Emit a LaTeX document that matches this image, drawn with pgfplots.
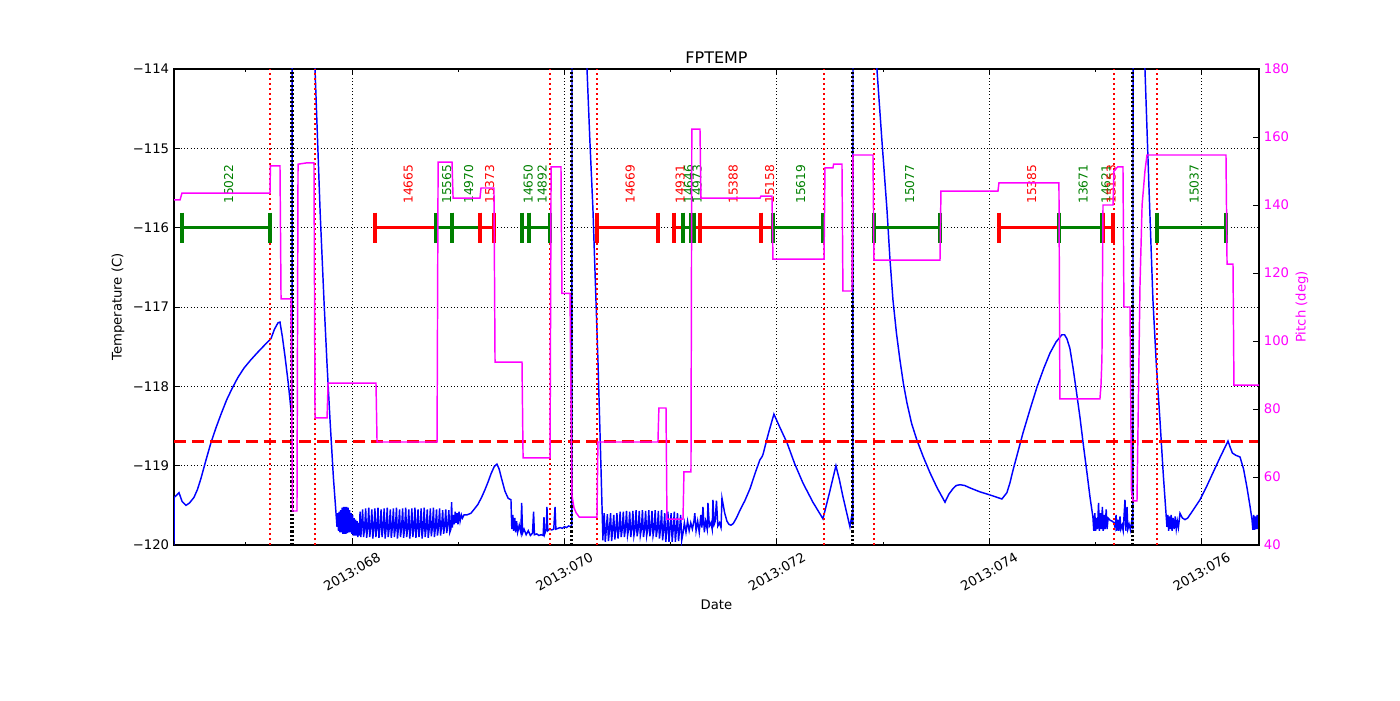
\documentclass[border=0pt]{standalone}
\usepackage{fontspec}
\setmainfont{DejaVu Sans}
\usepackage{pgfplots}
\pgfplotsset{compat=1.18}
\definecolor{mplgreen}{rgb}{0,0.5,0}
\definecolor{mplmag}{rgb}{1,0,1}
\newcommand{\tkfont}{\fontsize{9.5}{11}\selectfont}
\newcommand{\bfnt}{\fontsize{8.8}{10}\selectfont}
\begin{document}
\begin{tikzpicture}
\path[use as bounding box] (0,0) rectangle (1008pt,504pt);
\begin{axis}[
 at={(125.28pt,111.6pt)}, anchor=south west,
 scale only axis, width=781.2pt, height=342.72pt,
 xmin=66.324, xmax=76.541, ymin=-120, ymax=-114,
 xtick={68,70,72,74,76},
 xticklabels={2013:068,2013:070,2013:072,2013:074,2013:076},
 minor xtick={67,69,71,73,75},
 ytick={-120,-119,-118,-117,-116,-115,-114},
 yticklabels={−120,−119,−118,−117,−116,−115,−114},
 ytick pos=left,
 xmajorgrids, ymajorgrids,
 grid style={black, dotted, line width=0.6pt},
 tick style={black, line width=0.6pt},
 tick align=inside,
 major tick length=4.5pt, minor tick length=2.5pt,
 axis line style={line width=0.8pt},
 tick label style={font=\tkfont},
 xticklabel style={anchor=center, yshift=-19.4pt, rotate=30},
 every axis title/.style={at={(axis description cs:0.5,1.0105)}, anchor=base, font=\fontsize{11.5}{13}\selectfont},
 title={FPTEMP},
 every axis x label/.style={at={(axis description cs:0.5,-0.1345)}, anchor=base, font=\tkfont},
 xlabel={Date},
 every axis y label/.style={at={(axis description cs:-0.0516,0.5)}, rotate=90, anchor=center, font=\tkfont},
 ylabel={Temperature (C)},
]
% temperature
\addplot[blue, line width=1.05pt] coordinates {
(66.324,-120) (66.326,-119.40) (66.350,-119.37) (66.371,-119.34) (66.400,-119.45) (66.437,-119.50)
(66.470,-119.47) (66.512,-119.40) (66.545,-119.30) (66.578,-119.16) (66.625,-118.93) (66.672,-118.71)
(66.720,-118.52) (66.767,-118.35) (66.820,-118.17) (66.870,-118.03) (66.925,-117.89) (66.983,-117.77)
(67.045,-117.67) (67.106,-117.58) (67.170,-117.49) (67.237,-117.40)
(67.270,-117.28) (67.303,-117.20) (67.322,-117.19) (67.345,-117.38) (67.369,-117.62) (67.400,-117.96) (67.426,-118.30) (67.435,-118.39)
(67.437,-112) (67.445,-108) (67.500,-106) (67.580,-109) (67.652,-114.0) (67.700,-115.8) (67.736,-116.91) (67.765,-117.72) (67.793,-118.42) (67.825,-119.15) (67.859,-119.77)
(67.866,-119.60) (67.873,-119.82) (67.880,-119.58) (67.887,-119.84) (67.894,-119.56) (67.901,-119.84)
(67.908,-119.53) (67.915,-119.86) (67.922,-119.52) (67.929,-119.86) (67.936,-119.52) (67.943,-119.86)
(67.950,-119.52) (67.957,-119.85) (67.964,-119.53) (67.971,-119.84) (67.978,-119.56) (67.985,-119.84)
(67.992,-119.60) (67.999,-119.86) (68.006,-119.62) (68.013,-119.88) (68.020,-119.66) (68.027,-119.88)
(68.034,-119.68) (68.041,-119.88) (68.048,-119.70) (68.055,-119.90) (68.062,-119.72) (68.069,-119.88)
(68.076,-119.58) (68.083,-119.90)
(68.090,-119.78)(68.100,-119.55)(68.109,-119.90)
(68.119,-119.79)(68.129,-119.54)(68.138,-119.91)
(68.148,-119.78)(68.158,-119.53)(68.167,-119.90)
(68.177,-119.78)(68.187,-119.55)(68.196,-119.92)
(68.206,-119.78)(68.216,-119.54)(68.225,-119.90)
(68.235,-119.78)(68.245,-119.53)(68.254,-119.91)
(68.264,-119.78)(68.274,-119.55)(68.283,-119.90)
(68.293,-119.78)(68.303,-119.54)(68.312,-119.92)
(68.322,-119.78)(68.332,-119.53)(68.341,-119.90)
(68.351,-119.78)(68.361,-119.55)(68.370,-119.91)
(68.380,-119.78)(68.390,-119.54)(68.399,-119.90)
(68.409,-119.78)(68.419,-119.53)(68.428,-119.92)
(68.438,-119.78)(68.448,-119.55)(68.457,-119.90)
(68.467,-119.78)(68.477,-119.54)(68.486,-119.91)
(68.496,-119.78)(68.506,-119.53)(68.515,-119.90)
(68.525,-119.78)(68.535,-119.55)(68.544,-119.92)
(68.554,-119.78)(68.564,-119.54)(68.573,-119.90)
(68.583,-119.78)(68.593,-119.53)(68.602,-119.91)
(68.612,-119.78)(68.622,-119.55)(68.631,-119.90)
(68.641,-119.78)(68.651,-119.54)(68.660,-119.92)
(68.670,-119.78)(68.680,-119.53)(68.689,-119.90)
(68.699,-119.78)(68.709,-119.55)(68.718,-119.91)
(68.728,-119.78)(68.738,-119.54)(68.747,-119.89)
(68.757,-119.78)(68.767,-119.53)(68.776,-119.90)
(68.786,-119.78)(68.796,-119.55)(68.805,-119.88)
(68.815,-119.77)(68.825,-119.54)(68.834,-119.88)
(68.844,-119.76)(68.854,-119.56)(68.863,-119.86)
(68.873,-119.76)(68.883,-119.55)(68.892,-119.85)
(68.902,-119.75)(68.912,-119.56)(68.921,-119.84)
(68.931,-119.80) (68.938,-119.46) (68.945,-119.78) (68.955,-119.62) (68.963,-119.74) (68.972,-119.58)
(68.980,-119.72) (68.990,-119.60) (68.998,-119.74) (69.008,-119.58) (69.018,-119.70) (69.030,-119.62)
(69.040,-119.66) (69.055,-119.62) (69.083,-119.62) (69.120,-119.60) (69.150,-119.55) (69.185,-119.49) (69.220,-119.40) (69.250,-119.31) (69.280,-119.21)
(69.310,-119.10) (69.340,-119.01) (69.365,-118.98) (69.385,-119.04) (69.410,-119.17) (69.440,-119.32) (69.470,-119.41) (69.497,-119.43)
(69.505,-119.80) (69.515,-119.62) (69.523,-119.82) (69.533,-119.66) (69.541,-119.84) (69.550,-119.70)
(69.560,-119.84) (69.575,-119.75) (69.590,-119.84) (69.598,-119.47) (69.606,-119.85) (69.620,-119.80)
(69.640,-119.87) (69.660,-119.82) (69.680,-119.88) (69.700,-119.85) (69.710,-119.58) (69.718,-119.87)
(69.740,-119.86) (69.760,-119.88) (69.780,-119.87) (69.800,-119.88) (69.808,-119.65) (69.815,-119.86)
(69.830,-119.80) (69.836,-119.52) (69.843,-119.82) (69.860,-119.80) (69.880,-119.81) (69.900,-119.80)
(69.912,-119.52) (69.920,-119.80) (69.940,-119.79) (69.960,-119.78) (69.980,-119.79) (70.000,-119.77)
(70.020,-119.78) (70.040,-119.76) (70.060,-119.77) (70.071,-119.74)
(70.072,-112) (70.100,-108) (70.170,-109) (70.213,-114) (70.240,-114.9) (70.269,-115.77) (70.292,-116.70) (70.316,-117.67) (70.340,-118.80) (70.363,-119.94)
(70.365,-119.80)(70.375,-119.60)(70.385,-119.96)
(70.395,-119.80)(70.405,-119.61)(70.415,-119.95)
(70.425,-119.80)(70.435,-119.60)(70.445,-119.95)
(70.455,-119.80)(70.465,-119.62)(70.475,-119.93)
(70.485,-119.80)(70.495,-119.60)(70.505,-119.92)
(70.515,-119.80)(70.525,-119.58)(70.535,-119.90)
(70.545,-119.80)(70.555,-119.58)(70.565,-119.90)
(70.575,-119.80)(70.585,-119.57)(70.595,-119.88)
(70.605,-119.80)(70.615,-119.58)(70.625,-119.90)
(70.635,-119.80)(70.645,-119.57)(70.655,-119.88)
(70.665,-119.80)(70.675,-119.56)(70.685,-119.89)
(70.695,-119.80)(70.705,-119.57)(70.715,-119.88)
(70.725,-119.80)(70.735,-119.56)(70.745,-119.90)
(70.755,-119.80)(70.765,-119.57)(70.775,-119.88)
(70.785,-119.80)(70.795,-119.56)(70.805,-119.89)
(70.815,-119.80)(70.825,-119.57)(70.835,-119.88)
(70.845,-119.80)(70.855,-119.56)(70.865,-119.90)
(70.875,-119.80)(70.885,-119.57)(70.895,-119.92)
(70.905,-119.80)(70.915,-119.56)(70.925,-119.94)
(70.935,-119.80)(70.945,-119.60)(70.955,-119.96)
(70.965,-119.80)(70.975,-119.58)(70.985,-119.96)
(70.995,-119.80)(71.005,-119.60)(71.015,-119.96)
(71.025,-119.80)(71.035,-119.58)(71.045,-119.96)
(71.055,-119.80)(71.065,-119.60)(71.075,-119.95)
(71.085,-119.80)(71.095,-119.62)(71.105,-119.94)
(71.117,-119.85) (71.130,-119.72) (71.145,-119.84) (71.160,-119.70) (71.175,-119.82) (71.190,-119.72)
(71.205,-119.80) (71.220,-119.70) (71.228,-119.60) (71.240,-119.82) (71.255,-119.70) (71.270,-119.84)
(71.285,-119.62) (71.295,-119.78) (71.305,-119.52) (71.318,-119.84) (71.330,-119.70) (71.345,-119.80)
(71.352,-119.47) (71.365,-119.76) (71.380,-119.72) (71.392,-119.80) (71.399,-119.43) (71.410,-119.74)
(71.420,-119.70) (71.432,-119.44) (71.445,-119.76) (71.460,-119.72) (71.475,-119.78) (71.484,-119.41)
(71.510,-119.60) (71.531,-119.70) (71.550,-119.74) (71.569,-119.75) (71.590,-119.73) (71.620,-119.66) (71.654,-119.56)
(71.700,-119.44) (71.748,-119.29) (71.800,-119.08)
(71.840,-118.93) (71.860,-118.89) (71.870,-118.86) (71.920,-118.60) (71.973,-118.35) (72.030,-118.52)
(72.096,-118.71) (72.170,-118.98) (72.247,-119.22) (72.340,-119.46) (72.435,-119.67) (72.500,-119.32)
(72.557,-119.00) (72.590,-119.18) (72.623,-119.39) (72.689,-119.77) (72.708,-119.62) (72.717,-119.75)
(72.718,-111) (72.780,-107) (72.860,-109) (72.943,-114) (72.990,-114.90) (73.038,-115.78) (73.065,-116.38) (73.094,-116.91) (73.127,-117.33) (73.160,-117.67)
(73.193,-117.97) (73.226,-118.21) (73.270,-118.47) (73.320,-118.68) (73.380,-118.89) (73.443,-119.09) (73.510,-119.28) (73.584,-119.46) (73.620,-119.36) (73.659,-119.29)
(73.690,-119.25) (73.725,-119.24) (73.770,-119.25) (73.819,-119.28) (73.913,-119.33) (74.010,-119.37) (74.120,-119.42) (74.167,-119.34) (74.195,-119.22) (74.224,-119.06)
(74.270,-118.83) (74.318,-118.59) (74.385,-118.29) (74.450,-118.01) (74.515,-117.77) (74.573,-117.58) (74.630,-117.44) (74.685,-117.35) (74.710,-117.35) (74.732,-117.40) (74.760,-117.52) (74.789,-117.76)
(74.820,-118.05) (74.855,-118.39) (74.888,-118.75) (74.921,-119.09) (74.950,-119.40) (74.977,-119.65)
(74.985,-119.82) (74.995,-119.60) (75.003,-119.82) (75.012,-119.66) (75.020,-119.80) (75.030,-119.47)
(75.038,-119.82) (75.048,-119.60) (75.056,-119.80) (75.066,-119.52) (75.074,-119.82) (75.084,-119.62)
(75.092,-119.80) (75.102,-119.55) (75.110,-119.80) (75.120,-119.66) (75.140,-119.69) (75.160,-119.70)
(75.175,-119.72) (75.185,-119.78) (75.195,-119.62) (75.203,-119.82) (75.213,-119.68) (75.222,-119.82)
(75.232,-119.64) (75.240,-119.80) (75.252,-119.75) (75.262,-119.82) (75.279,-119.43) (75.287,-119.82)
(75.298,-119.52) (75.306,-119.80) (75.318,-119.74) (75.330,-119.81) (75.342,-119.70) (75.354,-119.80)
(75.355,-111) (75.400,-107) (75.440,-110) (75.467,-114) (75.505,-115.5) (75.542,-116.91) (75.575,-117.75) (75.608,-118.42) (75.640,-119.12) (75.674,-119.77)
(75.682,-119.62) (75.690,-119.82) (75.698,-119.64) (75.706,-119.80) (75.714,-119.62) (75.722,-119.82)
(75.732,-119.66) (75.742,-119.80) (75.752,-119.64) (75.762,-119.80) (75.772,-119.70) (75.782,-119.78)
(75.797,-119.60) (75.820,-119.66) (75.844,-119.68) (75.870,-119.66) (75.900,-119.60) (75.940,-119.52) (75.985,-119.43) (76.045,-119.27) (76.107,-119.09)
(76.180,-118.88) (76.249,-118.69) (76.270,-118.77) (76.290,-118.84) (76.324,-118.87) (76.362,-118.89) (76.395,-119.04) (76.427,-119.27) (76.455,-119.50) (76.475,-119.68)
(76.483,-119.81) (76.491,-119.62) (76.499,-119.81) (76.507,-119.64) (76.515,-119.80) (76.523,-119.62)
(76.531,-119.80) (76.541,-119.66)
};
% limit line
\addplot[red, line width=2pt, dash pattern=on 8.6pt off 4.3pt] coordinates {(66.324,-118.7) (76.541,-118.7)};
% red dotted verticals
\pgfplotsset{rdot/.style={red, line width=1.6pt, dash pattern=on 1.4pt off 2.2pt}, kdot/.style={black, line width=2.2pt, dash pattern=on 1.5pt off 1.5pt}}
\addplot[rdot] coordinates {(67.228,-120) (67.228,-114)};
\addplot[rdot] coordinates {(67.652,-120) (67.652,-114)};
\addplot[rdot] coordinates {(69.865,-120) (69.865,-114)};
\addplot[rdot] coordinates {(70.307,-120) (70.307,-114)};
\addplot[rdot] coordinates {(72.445,-120) (72.445,-114)};
\addplot[rdot] coordinates {(72.915,-120) (72.915,-114)};
\addplot[rdot] coordinates {(75.175,-120) (75.175,-114)};
\addplot[rdot] coordinates {(75.580,-120) (75.580,-114)};
% black dotted verticals
\addplot[kdot] coordinates {(67.435,-120) (67.435,-114)};
\addplot[kdot] coordinates {(70.071,-120) (70.071,-114)};
\addplot[kdot] coordinates {(72.717,-120) (72.717,-114)};
\addplot[kdot] coordinates {(75.354,-120) (75.354,-114)};
% observation bars
\pgfplotsset{bar/.style={line width=2.3pt, mark=|, mark size=10.8pt, mark options={solid, line width=2.3pt}}}
\addplot[mplgreen, bar] coordinates {(66.399,-116) (67.228,-116)};
\addplot[red, bar] coordinates {(68.217,-116) (68.791,-116)};
\addplot[mplgreen, bar] coordinates {(68.791,-116) (68.942,-116)};
\addplot[mplgreen, bar] coordinates {(68.942,-116) (69.205,-116)};
\addplot[red, bar] coordinates {(69.205,-116) (69.337,-116)};
\addplot[mplgreen, bar] coordinates {(69.601,-116) (69.667,-116)};
\addplot[mplgreen, bar] coordinates {(69.667,-116) (69.865,-116)};
\addplot[red, bar] coordinates {(70.307,-116) (70.881,-116)};
\addplot[red, bar] coordinates {(71.032,-116) (71.117,-116)};
\addplot[mplgreen, bar] coordinates {(71.117,-116) (71.192,-116)};
\addplot[mplgreen, bar] coordinates {(71.192,-116) (71.221,-116)};
\addplot[red, bar] coordinates {(71.277,-116) (71.851,-116)};
\addplot[red, line width=2.3pt] coordinates {(71.221,-116) (71.277,-116)};
\addplot[red, bar] coordinates {(71.851,-116) (71.964,-116)};
\addplot[mplgreen, bar] coordinates {(71.964,-116) (72.435,-116)};
\addplot[mplgreen, bar] coordinates {(72.915,-116) (73.537,-116)};
\addplot[red, bar] coordinates {(74.092,-116) (74.657,-116)};
\addplot[mplgreen, bar] coordinates {(74.657,-116) (75.062,-116)};
\addplot[mplgreen, bar] coordinates {(75.062,-116) (75.072,-116)};
\addplot[red, bar] coordinates {(75.080,-116) (75.166,-116)};
\addplot[mplgreen, bar] coordinates {(75.580,-116) (76.230,-116)};
% labels
\tikzset{lab/.style={rotate=90, anchor=west, inner sep=0pt, font=\bfnt}}
\node[lab, text=mplgreen] at (axis cs:66.839,-115.70) {15022};
\node[lab, text=red] at (axis cs:68.529,-115.70) {14665};
\node[lab, text=mplgreen] at (axis cs:68.892,-115.70) {15565};
\node[lab, text=mplgreen] at (axis cs:69.099,-115.70) {14970};
\node[lab, text=red] at (axis cs:69.296,-115.70) {15373};
\node[lab, text=mplgreen] at (axis cs:69.659,-115.70) {14650};
\node[lab, text=mplgreen] at (axis cs:69.791,-115.70) {14892};
\node[lab, text=red] at (axis cs:70.619,-115.70) {14669};
\node[lab, text=red] at (axis cs:71.090,-115.70) {14931};
\node[lab, text=mplgreen] at (axis cs:71.170,-115.70) {14646};
\node[lab, text=mplgreen] at (axis cs:71.250,-115.70) {14973};
\node[lab, text=red] at (axis cs:71.589,-115.70) {15388};
\node[lab, text=red] at (axis cs:71.933,-115.70) {15158};
\node[lab, text=mplgreen] at (axis cs:72.225,-115.70) {15619};
\node[lab, text=mplgreen] at (axis cs:73.251,-115.70) {15077};
\node[lab, text=red] at (axis cs:74.400,-115.70) {15385};
\node[lab, text=mplgreen] at (axis cs:74.885,-115.70) {13671};
\node[lab, text=mplgreen] at (axis cs:75.100,-115.70) {14621};
\node[lab, text=red] at (axis cs:75.150,-115.70) {15153};
\node[lab, text=mplgreen] at (axis cs:75.930,-115.70) {15037};
\end{axis}
\begin{axis}[
 at={(125.28pt,111.6pt)}, anchor=south west,
 scale only axis, width=781.2pt, height=342.72pt,
 xmin=66.324, xmax=76.541, ymin=40, ymax=180,
 axis y line*=right, axis x line=none,
 ytick={40,60,80,100,120,140,160,180},
 yticklabels={40,60,80,100,120,140,160,180},
 tick align=inside,
 tick style={black, line width=0.6pt},
 major tick length=4.5pt,
 axis line style={line width=0.8pt},
 tick label style={font=\tkfont},
 yticklabel style={text=mplmag},
 every axis y label/.style={at={(axis description cs:1.0396,0.5)}, rotate=90, anchor=center, font=\tkfont, text=mplmag},
 ylabel={Pitch (deg)},
]
\addplot[mplmag, line width=1.05pt] coordinates {
(66.324,141.5) (66.381,141.5) (66.399,143.5) (67.228,143.5) (67.232,151.5) (67.322,151.5) (67.332,112.4)
(67.426,112.4) (67.440,50) (67.482,50) (67.492,152) (67.576,152.4) (67.642,152.4) (67.652,77.4)
(67.765,77.4) (67.775,87.6) (68.226,87.6) (68.236,70.3) (68.801,70.3) (68.811,152.6) (68.942,152.6)
(68.952,142) (69.205,142) (69.215,145) (69.337,145) (69.347,93.8) (69.601,93.8) (69.611,65.6)
(69.865,65.6) (69.875,151.2) (69.968,151.2) (69.977,114) (70.053,114) (70.071,54.7) (70.090,51)
(70.110,49.5) (70.140,48.2) (70.307,48.2) (70.316,70.3) (70.881,70.3) (70.890,80.3) (70.957,80.3)
(70.966,47.6) (71.117,47.6) (71.126,61.5) (71.192,61.5) (71.200,162.3) (71.277,162.3) (71.286,142)
(71.842,142) (71.851,142.6) (71.955,142.6) (71.964,124.1) (72.445,124.1) (72.454,150.9) (72.529,150.9)
(72.535,152) (72.614,152) (72.623,114.7) (72.708,114.7) (72.717,154.7) (72.906,154.7) (72.915,123.8)
(73.537,123.8) (73.546,144.1) (74.083,144.1) (74.092,146.5) (74.657,146.5) (74.666,83) (75.043,83)
(75.053,87) (75.062,95) (75.072,140) (75.166,140) (75.175,150) (75.210,151.2) (75.260,151.2)
(75.269,110) (75.326,110) (75.340,56) (75.354,53) (75.392,53) (75.420,116) (75.440,140) (75.467,150)
(75.486,154.7) (76.230,154.7) (76.240,122.6) (76.296,122.6) (76.305,87) (76.541,87)
};
\end{axis}
\end{tikzpicture}
\end{document}
